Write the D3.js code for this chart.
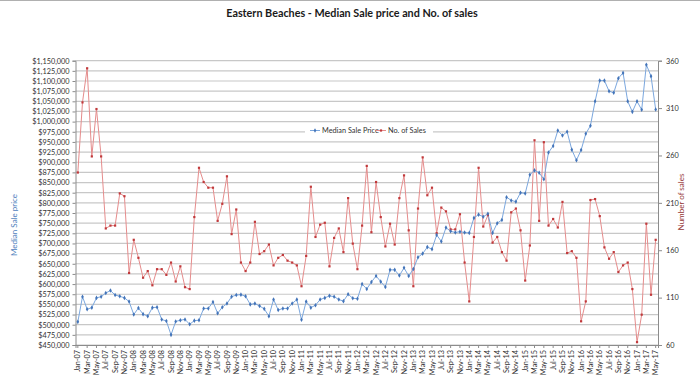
<!DOCTYPE html>
<html>
<head>
<meta charset="utf-8">
<script src="https://cdn.jsdelivr.net/npm/d3@7"></script>
<style>
  body { margin: 0; background: #fff; }
  svg { display: block; font-family: Lato, "Open Sans", sans-serif; }
</style>
</head>
<body>
<svg width="700" height="384"></svg>
<script>
// month categories, Jan-07 .. May-17
const months = [
  'Jan-07','Feb-07','Mar-07','Apr-07','May-07','Jun-07','Jul-07','Aug-07','Sep-07','Oct-07','Nov-07','Dec-07',
  'Jan-08','Feb-08','Mar-08','Apr-08','May-08','Jun-08','Jul-08','Aug-08','Sep-08','Oct-08','Nov-08','Dec-08',
  'Jan-09','Feb-09','Mar-09','Apr-09','May-09','Jun-09','Jul-09','Aug-09','Sep-09','Oct-09','Nov-09','Dec-09',
  'Jan-10','Feb-10','Mar-10','Apr-10','May-10','Jun-10','Jul-10','Aug-10','Sep-10','Oct-10','Nov-10','Dec-10',
  'Jan-11','Feb-11','Mar-11','Apr-11','May-11','Jun-11','Jul-11','Aug-11','Sep-11','Oct-11','Nov-11','Dec-11',
  'Jan-12','Feb-12','Mar-12','Apr-12','May-12','Jun-12','Jul-12','Aug-12','Sep-12','Oct-12','Nov-12','Dec-12',
  'Jan-13','Feb-13','Mar-13','Apr-13','May-13','Jun-13','Jul-13','Aug-13','Sep-13','Oct-13','Nov-13','Dec-13',
  'Jan-14','Feb-14','Mar-14','Apr-14','May-14','Jun-14','Jul-14','Aug-14','Sep-14','Oct-14','Nov-14','Dec-14',
  'Jan-15','Feb-15','Mar-15','Apr-15','May-15','Jun-15','Jul-15','Aug-15','Sep-15','Oct-15','Nov-15','Dec-15',
  'Jan-16','Feb-16','Mar-16','Apr-16','May-16','Jun-16','Jul-16','Aug-16','Sep-16','Oct-16','Nov-16','Dec-16',
  'Jan-17','Feb-17','Mar-17','Apr-17','May-17'
]

const medianPrice = [
  507000, 569000, 538000, 542000, 566000, 569000, 578000, 584000, 573000, 570000, 566000, 557000,
  525000, 541000, 526000, 521000, 542000, 543000, 513000, 509000, 475000, 508000, 511000, 513000,
  501000, 510000, 511000, 540000, 540000, 556000, 528000, 543000, 552000, 569000, 573000, 574000,
  570000, 550000, 552000, 546000, 539000, 521000, 562000, 536000, 540000, 540000, 552000, 562000,
  512000, 557000, 542000, 548000, 562000, 566000, 571000, 569000, 562000, 558000, 575000, 565000,
  564000, 600000, 588000, 605000, 620000, 606000, 593000, 635000, 635000, 621000, 640000, 620000,
  637000, 666000, 675000, 691000, 686000, 721000, 705000, 739000, 730000, 727000, 729000, 727000,
  726000, 763000, 771000, 766000, 773000, 726000, 750000, 758000, 814000, 806000, 803000, 825000,
  823000, 869000, 880000, 874000, 858000, 924000, 940000, 978000, 966000, 975000, 931000, 905000,
  930000, 970000, 990000, 1050000, 1101000, 1101000, 1075000, 1071000, 1107000, 1120000, 1050000, 1024000,
  1050000, 1029000, 1140000, 1112000, 1030000
]

const salesCount = [
  242, 316, 352, 259, 309, 259, 183, 186, 186, 220, 217, 136,
  171, 152, 131, 138, 123, 140, 140, 134, 147, 127, 143, 121,
  119, 195, 247, 232, 226, 226, 191, 209, 238, 177, 203, 147,
  138, 147, 190, 156, 159, 166, 144, 152, 155, 149, 147, 144,
  122, 154, 227, 174, 187, 189, 143, 173, 183, 158, 215, 167,
  140, 186, 249, 179, 232, 195, 164, 188, 166, 215, 239, 181,
  122, 204, 258, 218, 226, 178, 205, 201, 182, 182, 198, 147,
  106, 174, 247, 185, 197, 168, 174, 158, 149, 200, 204, 181,
  128, 165, 276, 191, 274, 186, 193, 184, 211, 157, 159, 152,
  85, 106, 213, 214, 196, 163, 151, 158, 137, 144, 147, 119,
  63, 92, 188, 113, 171
]

const priceTicks = d3.range(450000, 1150001, 25000)
const salesTicks = [60, 110, 160, 210, 260, 310, 360]
const xLabels = months.filter((d, i) => i % 2 === 0)

const plotLeft = 75.5, plotRight = 658, plotTop = 60.7, plotBottom = 345

const blueLine = '#7ba7de', blueMark = '#4374b9'
const redLine = '#e58c8c', redMark = '#c0393b'
const gridCol = '#c8c8c8', axisCol = '#8c8c8c', textCol = '#333'

const svg = d3.select('svg')

svg.append('line')
  .attr('x1', 0).attr('x2', 700).attr('y1', 0.5).attr('y2', 0.5)
  .attr('stroke', '#b0b0b0')

const x = d3.scaleBand()
  .domain(months)
  .range([plotLeft, plotRight])
  .padding(0)

const cx = d => x(d) + x.bandwidth() / 2

const yL = d3.scaleLinear()
  .domain([450000, 1150000])
  .range([plotBottom, plotTop])

const yR = d3.scaleLinear()
  .domain([60, 360])
  .range([plotBottom, plotTop])

// gridlines
svg.append('g')
  .selectAll('line')
  .data(priceTicks)
  .enter().append('line')
  .attr('x1', plotLeft).attr('x2', plotRight)
  .attr('y1', d => yL(d)).attr('y2', d => yL(d))
  .attr('stroke', gridCol)
  .attr('stroke-width', 1.2)

// left axis
const gL = svg.append('g')
  .attr('transform', `translate(${plotLeft},0)`)
  .call(d3.axisLeft(yL).tickValues(priceTicks).tickFormat(d3.format('$,')).tickSize(3).tickPadding(3))
gL.select('.domain').attr('stroke', axisCol)
gL.selectAll('.tick line').attr('stroke', axisCol)
gL.selectAll('text').attr('font-size', 7.3).attr('fill', textCol)
  .attr('font-family', 'Lato, sans-serif')

// right axis
const gR = svg.append('g')
  .attr('transform', `translate(${plotRight},0)`)
  .call(d3.axisRight(yR).tickValues(salesTicks).tickSize(4).tickPadding(4))
gR.select('.domain').attr('stroke', axisCol)
gR.selectAll('.tick line').attr('stroke', axisCol)
gR.selectAll('text').attr('font-size', 7.3).attr('fill', textCol)
  .attr('font-family', 'Lato, sans-serif')

// x axis
const gX = svg.append('g')
  .attr('transform', `translate(0,${plotBottom})`)
  .call(d3.axisBottom(x).tickValues(xLabels).tickSize(3))
gX.select('.domain').attr('stroke', axisCol)
gX.selectAll('.tick line').attr('stroke', axisCol)
gX.selectAll('text')
  .attr('font-size', 7.3).attr('fill', textCol)
  .attr('font-family', 'Lato, sans-serif')
  .attr('transform', 'rotate(-90)')
  .attr('x', -5).attr('y', 0).attr('dy', '0.35em')
  .style('text-anchor', 'end')

// lines
const priceLine = d3.line()
  .x((d, i) => cx(months[i]))
  .y(d => yL(d))

const salesLine = d3.line()
  .x((d, i) => cx(months[i]))
  .y(d => yR(d))

svg.append('path')
  .datum(salesCount)
  .attr('fill', 'none')
  .attr('stroke', redLine)
  .attr('stroke-width', 1)
  .attr('d', salesLine)

svg.append('path')
  .datum(medianPrice)
  .attr('fill', 'none')
  .attr('stroke', blueLine)
  .attr('stroke-width', 1)
  .attr('d', priceLine)

svg.append('g')
  .selectAll('rect')
  .data(salesCount)
  .enter().append('rect')
  .attr('x', (d, i) => cx(months[i]) - 1.1)
  .attr('y', d => yR(d) - 1.1)
  .attr('width', 2.2).attr('height', 2.2)
  .attr('fill', redMark)

svg.append('g')
  .selectAll('path')
  .data(medianPrice)
  .enter().append('path')
  .attr('d', d3.symbol(d3.symbolDiamond, 6))
  .attr('transform', (d, i) => `translate(${cx(months[i])},${yL(d)})`)
  .attr('fill', blueMark)

// title
svg.append('text')
  .attr('x', 352).attr('y', 17)
  .attr('text-anchor', 'middle')
  .attr('font-size', 10.8)
  .attr('font-weight', 'bold')
  .attr('fill', '#1a1a1a')
  .text('Eastern Beaches - Median Sale price and No. of sales')

// axis titles
svg.append('text')
  .attr('text-anchor', 'middle')
  .attr('transform', 'translate(17, 225) rotate(-90)')
  .attr('font-size', 8)
  .attr('fill', '#4f81bd')
  .text('Median Sale price')

svg.append('text')
  .attr('text-anchor', 'middle')
  .attr('transform', 'translate(684, 202) rotate(-90)')
  .attr('font-size', 8)
  .attr('fill', '#953735')
  .text('Number of sales')

// legend
const lg = svg.append('g')
lg.append('rect')
  .attr('x', 305).attr('y', 125).attr('width', 128).attr('height', 12)
  .attr('fill', '#fff')
lg.append('line')
  .attr('x1', 310).attr('x2', 320).attr('y1', 130.5).attr('y2', 130.5)
  .attr('stroke', blueLine)
lg.append('path')
  .attr('d', d3.symbol(d3.symbolDiamond, 6))
  .attr('transform', 'translate(315,130.5)')
  .attr('fill', blueMark)
lg.append('text')
  .attr('x', 322).attr('y', 133)
  .attr('font-size', 7.3).attr('fill', textCol)
  .text('Median Sale Price')
lg.append('line')
  .attr('x1', 376).attr('x2', 386).attr('y1', 130.5).attr('y2', 130.5)
  .attr('stroke', redLine)
lg.append('rect')
  .attr('x', 379.9).attr('y', 129.4).attr('width', 2.2).attr('height', 2.2)
  .attr('fill', redMark)
lg.append('text')
  .attr('x', 388).attr('y', 133)
  .attr('font-size', 7.3).attr('fill', textCol)
  .text('No. of Sales')
</script>
</body>
</html>
